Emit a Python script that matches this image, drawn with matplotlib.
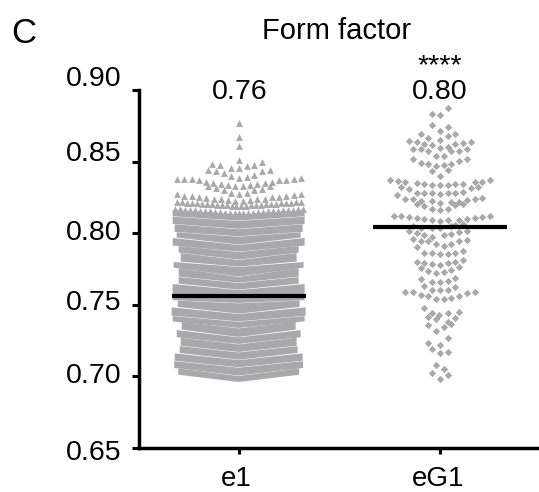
import matplotlib
matplotlib.use("Agg")
import matplotlib.pyplot as plt
from matplotlib.transforms import ScaledTranslation

plt.rcParams['font.family'] = ['Liberation Sans', 'DejaVu Sans']

categories = ["e1", "eG1"]
means = [0.7557, 0.8040]
mean_labels = ["0.76", "0.80"]
y_ticks = [0.65, 0.70, 0.75, 0.80, 0.85, 0.90]
y_tick_labels = ["0.65", "0.70", "0.75", "0.80", "0.85", "0.90"]

# swarm offsets are in pixels from the group centre
e1_offset = [0,
             0, 0,
             0, -26.7, -19, 23.3, 15.7, 8, -7.3, 0,
             -30.7, -22.7, -15, 23.3, 31,
             -7.3, 0, 8, 15.7,
             -61.7, -54.3, -47, -39.7, 40.3, 47.7, 55, 62.3,
             -32.3, -26, -18, -10.7, -3.3, 4, 11.3, 18.7, 26, 33,
             -30.7, -22.7, 31, 23.7, 15.7, -15,
             -7.3, 0, 8,
             -61.7, -54.3, -47, -39.7, -32.3, -25, -17.7, -10.3, -3.3,
             4, 11.3, 18.7, 26, 33, 40.3, 47.7, 55, 62.3,
             -62, -57, -52, -47, -42, -37, -32, -27, -22, -17, -12, -7, -2.5,
             2.5, 7, 12, 17, 22, 27, 32, 37, 42, 47, 52, 57, 62,
             -64, -59, -54, -49, -44, -39, -34, -29, -24, -19, -14, -9, -4,
             0, 4, 9, 14, 19, 24, 29, 34, 39, 44, 49, 54, 59, 64]
e1_value = [0.8767,
            0.8674, 0.8606,
            0.8510, 0.8482, 0.8473, 0.8494, 0.8478, 0.8466, 0.8454, 0.8454,
            0.8438, 0.8431, 0.8422, 0.8431, 0.8438,
            0.8396, 0.8387, 0.8389, 0.8408,
            0.8380, 0.8375, 0.8375, 0.8368, 0.8368, 0.8371, 0.8375, 0.8382,
            0.8354, 0.8347, 0.8343, 0.8336, 0.8331, 0.8331, 0.8336, 0.8343, 0.8350, 0.8357,
            0.8329, 0.8317, 0.8329, 0.8305, 0.8301, 0.8301,
            0.8277, 0.8275, 0.8277,
            0.8270, 0.8261, 0.8259, 0.8254, 0.8247, 0.8240, 0.8235, 0.8231, 0.8224,
            0.8224, 0.8231, 0.8235, 0.8240, 0.8249, 0.8254, 0.8259, 0.8263, 0.8270,
            0.8217, 0.8215, 0.8213, 0.8211, 0.8208, 0.8206, 0.8204, 0.8202, 0.8199, 0.8197, 0.8195, 0.8192, 0.8190,
            0.8190, 0.8192, 0.8195, 0.8197, 0.8199, 0.8202, 0.8204, 0.8206, 0.8208, 0.8211, 0.8213, 0.8215, 0.8217,
            0.8168, 0.8166, 0.8163, 0.8161, 0.8158, 0.8156, 0.8153, 0.8151, 0.8148, 0.8146, 0.8143, 0.8141, 0.8139,
            0.8138, 0.8139, 0.8141, 0.8143, 0.8146, 0.8148, 0.8151, 0.8153, 0.8156, 0.8158, 0.8161, 0.8163, 0.8166, 0.8168]

# below 0.815 the e1 triangles merge into chevron shaped bands
band_edge = [0.8160, 0.8114, 0.8061, 0.8005, 0.7965, 0.7909, 0.7860, 0.7797, 0.7755, 0.7692, 0.7643,
             0.7527, 0.7480, 0.7419, 0.7379, 0.7321, 0.7268, 0.7209, 0.7158, 0.7104, 0.7053, 0.7006]
band_mid = [0.8130, 0.8084, 0.8026, 0.7974, 0.7916, 0.7867, 0.7811, 0.7762, 0.7692, 0.7650, 0.7601,
            0.7508, 0.7433, 0.7379, 0.7333, 0.7270, 0.7221, 0.7165, 0.7111, 0.7058, 0.7000, 0.6955]
band_half = [66, 66, 64, 62, 66, 60, 58, 65, 60, 60, 66,
             61, 67, 66, 57, 62, 58, 59, 64, 64.5, 60.5]

eg1_offset = [7.7,
              -7.7, 0,
              -7.7, 7.7,
              0, -19.3, 7.7, 15.3,
              -11.7, 0, -31, -23.3, -15.7, -7.7, 15.3, 23, 30.7, 7.7, 0,
              -27, -19.3, -11.7, 11.3, 19, 26.7,
              -4, 3.7,
              -27, 26.7, 19, 11.3, -19.3, -11.7, -4, 3.7,
              7.7, -7.7, 0,
              -50, -42.3, -34.7, -23.3, -15.7, -7.7, 0, 7.7, 15.3, 23, 34.7, 42.3, 50,
              -38.7, -31, 30.7, 38.3,
              -23.3, -15.7, -7.7, 0, 7.7, 15.3, 23,
              -42.7, -34.7, -27, -19.3, -23.3, -7.7, 0, 11.3, 19, 15.3, 23, 26.7, 34.7, 42.3, -15.7,
              -7.7, 0, 7.7,
              -46.3, -38.7, -31, -23.3, -15.7, -7.7, 0, 7.7, 19, 26.7, 34.7, 42.3, 50,
              -27, 23, 15.3, -19.3, -7.7, 0, 11.3,
              -31, -23.3, -15.7, -7.7, 3.7, 11.3, 19, 26.7,
              -27, -19.3, -11.7, -4, 3.7, 11.3, 19, 26.7,
              -23.3,
              -15.7, -7.7, 0, 7.7, 15.3, 23,
              -23.3, -15.7, -7.7, 0, 7.7, 15.3, 23, 19, -19.3, -11.7, -4, 3.7, 11.3,
              -19.3, 15.3, -7.7, 0, 7.7, -15.7, 15.3, -7.7, 0, 7.7,
              -34.7, -27, -19.3, -11.7, -4, 3.7, 11.3, 19, 26.7, 34.7,
              -15.7, -7.7, -11.7, -4, -0.7, 7.7, 19, 15.3,
              -11.7, 7.7, 11.3, 3.7, -4,
              7.7, -11.7, 0, -7.7, 7.7, 0,
              -4, 3.7, -7.7, 7.7, 0]
eg1_value = [0.8872,
             0.8832, 0.8828,
             0.8758, 0.8744,
             0.8711, 0.8695, 0.8681, 0.8695,
             0.8664, 0.8648, 0.8641, 0.8639, 0.8622, 0.8618, 0.8622, 0.8632, 0.8639, 0.8604, 0.8594,
             0.8587, 0.8587, 0.8576, 0.8571, 0.8576, 0.8587,
             0.8541, 0.8538,
             0.8515, 0.8520, 0.8506, 0.8485, 0.8487, 0.8480, 0.8469, 0.8473,
             0.8438, 0.8431, 0.8396,
             0.8368, 0.8364, 0.8354, 0.8350, 0.8340, 0.8336, 0.8333, 0.8336, 0.8343, 0.8343, 0.8354, 0.8357, 0.8368,
             0.8319, 0.8308, 0.8315, 0.8319,
             0.8282, 0.8280, 0.8277, 0.8275, 0.8280, 0.8282, 0.8287,
             0.8263, 0.8240, 0.8238, 0.8221, 0.8203, 0.8221, 0.8212, 0.8217, 0.8217, 0.8196, 0.8205, 0.8231, 0.8240, 0.8247, 0.8186,
             0.8166, 0.8161, 0.8170,
             0.8119, 0.8117, 0.8114, 0.8105, 0.8096, 0.8089, 0.8084, 0.8089, 0.8093, 0.8098, 0.8105, 0.8114, 0.8117,
             0.8051, 0.8061, 0.8056, 0.8033, 0.8033, 0.8033, 0.8049,
             0.8016, 0.7998, 0.7986, 0.7972, 0.7984, 0.7995, 0.8005, 0.8016,
             0.7956, 0.7946, 0.7944, 0.7921, 0.7907, 0.7921, 0.7942, 0.7953,
             0.7900,
             0.7860, 0.7860, 0.7853, 0.7853, 0.7860, 0.7876,
             0.7797, 0.7790, 0.7783, 0.7774, 0.7790, 0.7795, 0.7814, 0.7765, 0.7753, 0.7732, 0.7720, 0.7725, 0.7744,
             0.7678, 0.7683, 0.7660, 0.7657, 0.7664, 0.7629, 0.7620, 0.7601, 0.7599, 0.7599,
             0.7590, 0.7587, 0.7566, 0.7557, 0.7541, 0.7536, 0.7545, 0.7559, 0.7583, 0.7587,
             0.7478, 0.7443, 0.7415, 0.7401, 0.7424, 0.7438, 0.7448, 0.7406,
             0.7359, 0.7378, 0.7364, 0.7345, 0.7315,
             0.7268, 0.7233, 0.7214, 0.7191, 0.7170, 0.7159,
             0.7079, 0.7051, 0.7023, 0.7007, 0.6981]

label_shift = [-2.5, 3, 4, 3.5, 10.5, 13.5]  # tick label nudge, pixels upward
group_x = [0, 201.3]
gray = '#a9a9ab'
W, H = 539, 492

fig = plt.figure(figsize=(W / 100, H / 100), dpi=100)
ax = fig.add_axes([138.5 / W, (H - 447.5) / H, 1 - 138.5 / W, 357.5 / H])
ax.set_xlim(-100.2, 300.5)
ax.set_ylim(0.65, 0.90)

# e1 swarm
ax.scatter([group_x[0] + o for o in e1_offset], e1_value, marker='^', s=24, color=gray, linewidths=0)
for i in range(len(band_half)):
    hw = band_half[i]
    xs = [-hw, 0, hw, hw, 0, -hw]
    ys = [band_edge[i], band_mid[i], band_edge[i],
          band_edge[i + 1] + 0.0003, band_mid[i + 1] + 0.0003, band_edge[i + 1] + 0.0003]
    ax.fill([group_x[0] + x for x in xs], ys, color=gray, linewidth=0)

# eG1 swarm
ax.scatter([group_x[1] + o for o in eg1_offset], eg1_value, marker='D', s=14, color=gray, linewidths=0)

# mean lines
for gx, m in zip(group_x, means):
    ax.plot([gx - 67, gx + 67], [m, m], color='black', lw=3, solid_capstyle='butt', zorder=5)

for side in ['top', 'right']:
    ax.spines[side].set_visible(False)
for side in ['left', 'bottom']:
    ax.spines[side].set_linewidth(2.5)

ax.set_xticks(group_x)
ax.set_xticklabels(categories, fontsize=20)
ax.set_yticks(y_ticks)
ax.set_yticklabels(y_tick_labels, fontsize=20.5)
ax.tick_params(axis='y', length=5, width=2.2, pad=7)
ax.tick_params(axis='x', length=4, width=2.2, pad=9)

for lab, dy in zip(ax.get_yticklabels(), label_shift):
    lab.set_transform(lab.get_transform() + ScaledTranslation(0, dy / 100, fig.dpi_scale_trans))
for lab in ax.get_xticklabels():
    lab.set_transform(lab.get_transform() + ScaledTranslation(-2 / 100, 0, fig.dpi_scale_trans))


def put(px, py, s, size):
    fig.text(px / W, 1 - py / H, s, fontsize=size, ha='center', va='center_baseline')


put(24, 30, "C", 25)
put(337, 28, "Form factor", 21)
put(239.7, 89, mean_labels[0], 20.5)
put(440, 89, mean_labels[1], 20.5)
put(440, 63, "****", 20.5)

fig.savefig("out.png", dpi=100)
